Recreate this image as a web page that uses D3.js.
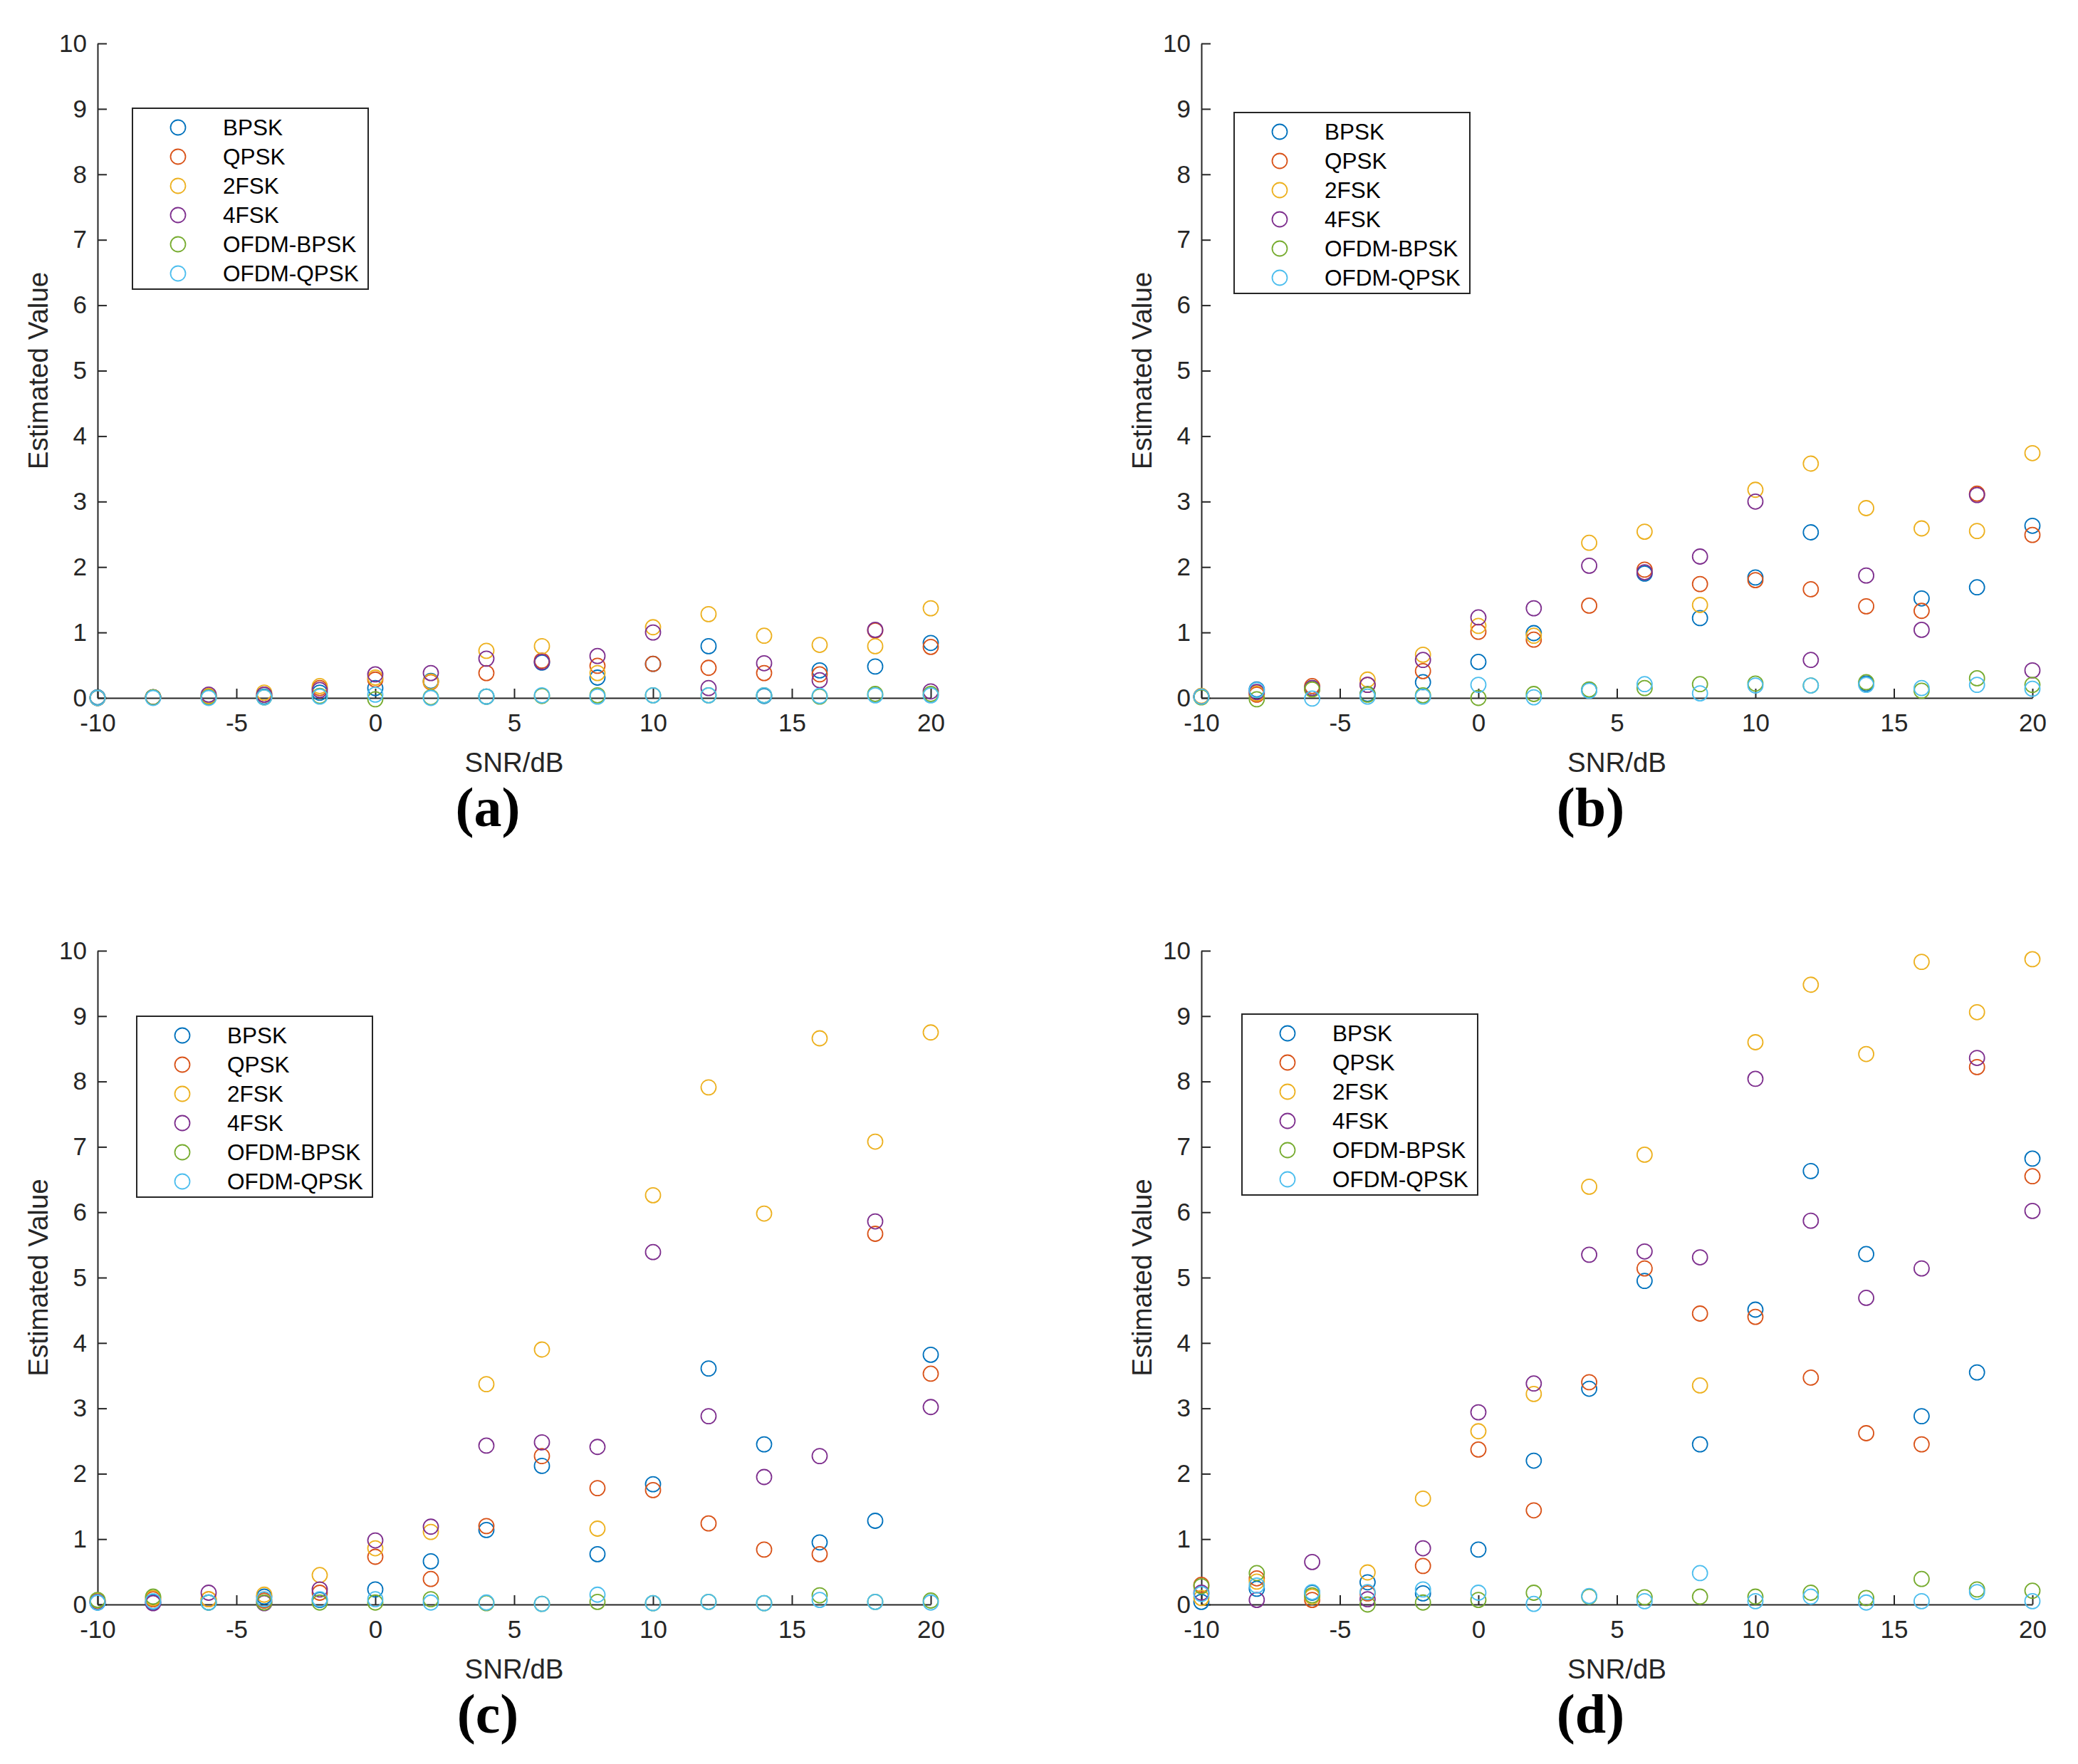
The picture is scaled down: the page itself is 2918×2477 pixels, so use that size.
<!DOCTYPE html>
<html>
<head>
<meta charset="utf-8">
<script src="https://d3js.org/d3.v7.min.js"></script>
<style>
body { margin: 0; background: #fff; }
svg { display: block; background: #fff; }
.axis path, .axis line { stroke: #262626; stroke-width: 2; }
.axis text { fill: #262626; font-size: 35px; font-family: "Liberation Sans", Arial, sans-serif; }
.lbl { fill: #262626; font-size: 38.5px; font-family: "Liberation Sans", Arial, sans-serif; }
.leg { fill: #000; font-size: 31.5px; font-family: "Liberation Sans", Arial, sans-serif; }
.tag { fill: #000; font-size: 78px; font-weight: bold; font-family: "Liberation Serif", "Times New Roman", serif; }
</style>
</head>
<body>
<svg id="chart" width="2918" height="2477"></svg>
<script>
// SNR values on the x axis
var snr = [-10, -8, -6, -4, -2, 0, 2, 4, 6, 8, 10, 12, 14, 16, 18, 20];
var names = ["BPSK", "QPSK", "2FSK", "4FSK", "OFDM-BPSK", "OFDM-QPSK"];
var colors = ["#0072BD", "#D95319", "#EDB120", "#7E2F8E", "#77AC30", "#4DBEEE"];
var xTicks = [-10, -5, 0, 5, 10, 15, 20];
var yTicks = [0, 1, 2, 3, 4, 5, 6, 7, 8, 9, 10];
var tags = ["(a)", "(b)", "(c)", "(d)"];

// panel (a)
var a_bpsk  = [0.01, 0.01, 0.02, 0.02, 0.08, 0.15, 0.26, 0.02, 0.54, 0.31, 0.52, 0.79, 0.03, 0.42, 0.48, 0.84];
var a_qpsk  = [0.00, 0.01, 0.02, 0.05, 0.15, 0.28, 0.24, 0.38, 0.57, 0.49, 0.52, 0.46, 0.38, 0.36, 1.03, 0.78];
var a_2fsk  = [0.00, 0.01, 0.03, 0.08, 0.18, 0.31, 0.25, 0.72, 0.79, 0.38, 1.08, 1.28, 0.95, 0.81, 0.79, 1.37];
var a_4fsk  = [0.00, 0.01, 0.05, 0.05, 0.12, 0.36, 0.38, 0.60, 0.55, 0.64, 1.00, 0.15, 0.53, 0.27, 1.04, 0.10];
var a_obpsk = [0.00, 0.01, 0.01, 0.01, 0.03, -0.02, 0.01, 0.02, 0.03, 0.04, 0.04, 0.04, 0.04, 0.02, 0.06, 0.06];
var a_oqpsk = [0.00, 0.00, 0.00, 0.01, 0.02, 0.05, 0.00, 0.02, 0.04, 0.02, 0.04, 0.04, 0.04, 0.03, 0.04, 0.04];

// panel (b)
var b_bpsk  = [0.02, 0.13, 0.15, 0.06, 0.24, 0.55, 0.99, 0.12, 1.90, 1.22, 1.84, 2.53, 0.22, 1.52, 1.69, 2.63];
var b_qpsk  = [0.02, 0.05, 0.18, 0.20, 0.41, 1.01, 0.89, 1.41, 1.96, 1.74, 1.80, 1.66, 1.40, 1.33, 3.12, 2.49];
var b_2fsk  = [0.03, 0.07, 0.13, 0.28, 0.66, 1.10, 0.95, 2.37, 2.54, 1.42, 3.18, 3.58, 2.90, 2.59, 2.55, 3.74];
var b_4fsk  = [0.02, 0.09, 0.15, 0.20, 0.58, 1.23, 1.37, 2.02, 1.92, 2.16, 3.00, 0.58, 1.87, 1.04, 3.10, 0.42];
var b_obpsk = [0.01, -0.02, 0.13, 0.05, 0.04, 0.00, 0.06, 0.13, 0.15, 0.21, 0.22, 0.19, 0.24, 0.11, 0.30, 0.20];
var b_oqpsk = [0.02, 0.12, -0.01, 0.02, 0.02, 0.20, 0.01, 0.11, 0.21, 0.07, 0.19, 0.19, 0.20, 0.15, 0.20, 0.14];

// panel (c)
var c_bpsk  = [0.03, 0.03, 0.03, 0.12, 0.07, 0.23, 0.66, 1.14, 2.12, 0.77, 1.84, 3.61, 2.45, 0.95, 1.28, 3.82];
var c_qpsk  = [0.05, 0.08, 0.08, 0.06, 0.18, 0.73, 0.39, 1.20, 2.27, 1.78, 1.75, 1.24, 0.84, 0.77, 5.67, 3.53];
var c_2fsk  = [0.06, 0.10, 0.08, 0.15, 0.45, 0.86, 1.11, 3.37, 3.90, 1.16, 6.26, 7.91, 5.98, 8.66, 7.08, 8.75];
var c_4fsk  = [0.04, 0.02, 0.18, 0.02, 0.23, 0.98, 1.19, 2.43, 2.48, 2.41, 5.39, 2.88, 1.95, 2.27, 5.86, 3.02];
var c_obpsk = [0.07, 0.12, 0.03, 0.03, 0.03, 0.03, 0.08, 0.02, 0.01, 0.04, 0.02, 0.04, 0.02, 0.14, 0.04, 0.06];
var c_oqpsk = [0.03, 0.05, 0.03, 0.08, 0.08, 0.08, 0.03, 0.03, 0.01, 0.15, 0.02, 0.04, 0.02, 0.07, 0.04, 0.03];

// panel (d)
var d_bpsk  = [0.04, 0.24, 0.18, 0.34, 0.17, 0.84, 2.20, 3.30, 4.95, 2.45, 4.51, 6.63, 5.36, 2.88, 3.55, 6.82];
var d_qpsk  = [0.30, 0.40, 0.07, 0.17, 0.59, 2.37, 1.44, 3.40, 5.14, 4.45, 4.40, 3.47, 2.62, 2.45, 8.22, 6.55];
var d_2fsk  = [0.10, 0.35, 0.12, 0.49, 1.62, 2.65, 3.22, 6.39, 6.88, 3.35, 8.60, 9.48, 8.42, 9.83, 9.06, 9.87];
var d_4fsk  = [0.18, 0.07, 0.65, 0.08, 0.86, 2.94, 3.38, 5.35, 5.40, 5.31, 8.04, 5.87, 4.69, 5.14, 8.36, 6.02];
var d_obpsk = [0.28, 0.48, 0.14, 0.00, 0.03, 0.07, 0.18, 0.12, 0.11, 0.12, 0.12, 0.18, 0.10, 0.39, 0.23, 0.21];
var d_oqpsk = [0.16, 0.29, 0.19, 0.19, 0.23, 0.18, 0.01, 0.13, 0.05, 0.48, 0.05, 0.12, 0.03, 0.05, 0.19, 0.05];

var panelData = [
  [a_bpsk, a_qpsk, a_2fsk, a_4fsk, a_obpsk, a_oqpsk],
  [b_bpsk, b_qpsk, b_2fsk, b_4fsk, b_obpsk, b_oqpsk],
  [c_bpsk, c_qpsk, c_2fsk, c_4fsk, c_obpsk, c_oqpsk],
  [d_bpsk, d_qpsk, d_2fsk, d_4fsk, d_obpsk, d_oqpsk]
];

// layout of the 2x2 grid (pixels)
var boxes = [
  {left: 137, right: 1307, top: 61, bottom: 980, lx: 186, ly: 152},
  {left: 1687, right: 2854, top: 61, bottom: 980, lx: 1733, ly: 158},
  {left: 137, right: 1307, top: 1335, bottom: 2253, lx: 192, ly: 1427},
  {left: 1687, right: 2854, top: 1335, bottom: 2253, lx: 1744, ly: 1424}
];

var svg = d3.select("#chart");
svg.append("rect").attr("width", 2918).attr("height", 2477).attr("fill", "#fff");

boxes.forEach(function(p, k) {
  var xs = d3.scaleLinear().domain([-10, 20]).range([p.left, p.right]);
  var ys = d3.scaleLinear().domain([0, 10]).range([p.bottom, p.top]);
  var g = svg.append("g");

  // axes (drawn below the markers, like matlab)
  g.append("g").attr("class", "axis")
    .attr("transform", "translate(0," + p.bottom + ")")
    .call(d3.axisBottom(xs).tickValues(xTicks).tickSizeInner(-13).tickSizeOuter(0)
      .tickPadding(22).tickFormat(function(d) { return String(d); }));
  g.append("g").attr("class", "axis")
    .attr("transform", "translate(" + p.left + ",0)")
    .call(d3.axisLeft(ys).tickValues(yTicks).tickSizeInner(-13).tickSizeOuter(0)
      .tickPadding(15).tickFormat(function(d) { return String(d); }));

  // markers
  panelData[k].forEach(function(vals, i) {
    g.append("g").selectAll("circle")
      .data(vals)
      .enter()
      .append("circle")
      .attr("cx", function(d, j) { return xs(snr[j]); })
      .attr("cy", function(d) { return ys(d); })
      .attr("r", 10.5)
      .attr("fill", "none")
      .attr("stroke", colors[i])
      .attr("stroke-width", 1.8);
  });

  // axis labels
  g.append("text").attr("class", "lbl")
    .attr("x", (p.left + p.right) / 2)
    .attr("y", p.bottom + 104)
    .attr("text-anchor", "middle")
    .text("SNR/dB");
  g.append("text").attr("class", "lbl")
    .attr("transform", "translate(" + (p.left - 70) + "," + ((p.top + p.bottom) / 2) + ") rotate(-90)")
    .attr("text-anchor", "middle")
    .text("Estimated Value");

  // sub-figure tag
  g.append("text").attr("class", "tag")
    .attr("x", (p.left + p.right) / 2 - 37)
    .attr("y", p.bottom + 180)
    .attr("text-anchor", "middle")
    .text(tags[k]);

  // legend
  var lg = g.append("g").attr("transform", "translate(" + p.lx + "," + p.ly + ")");
  lg.append("rect").attr("width", 331).attr("height", 254)
    .attr("fill", "#fff").attr("stroke", "#262626").attr("stroke-width", 2);
  names.forEach(function(n, i) {
    lg.append("circle").attr("cx", 64).attr("cy", 27 + i * 41).attr("r", 10.5)
      .attr("fill", "none").attr("stroke", colors[i]).attr("stroke-width", 1.8);
    lg.append("text").attr("class", "leg")
      .attr("x", 127).attr("y", 27 + i * 41 + 11)
      .text(n);
  });
});
</script>
</body>
</html>
